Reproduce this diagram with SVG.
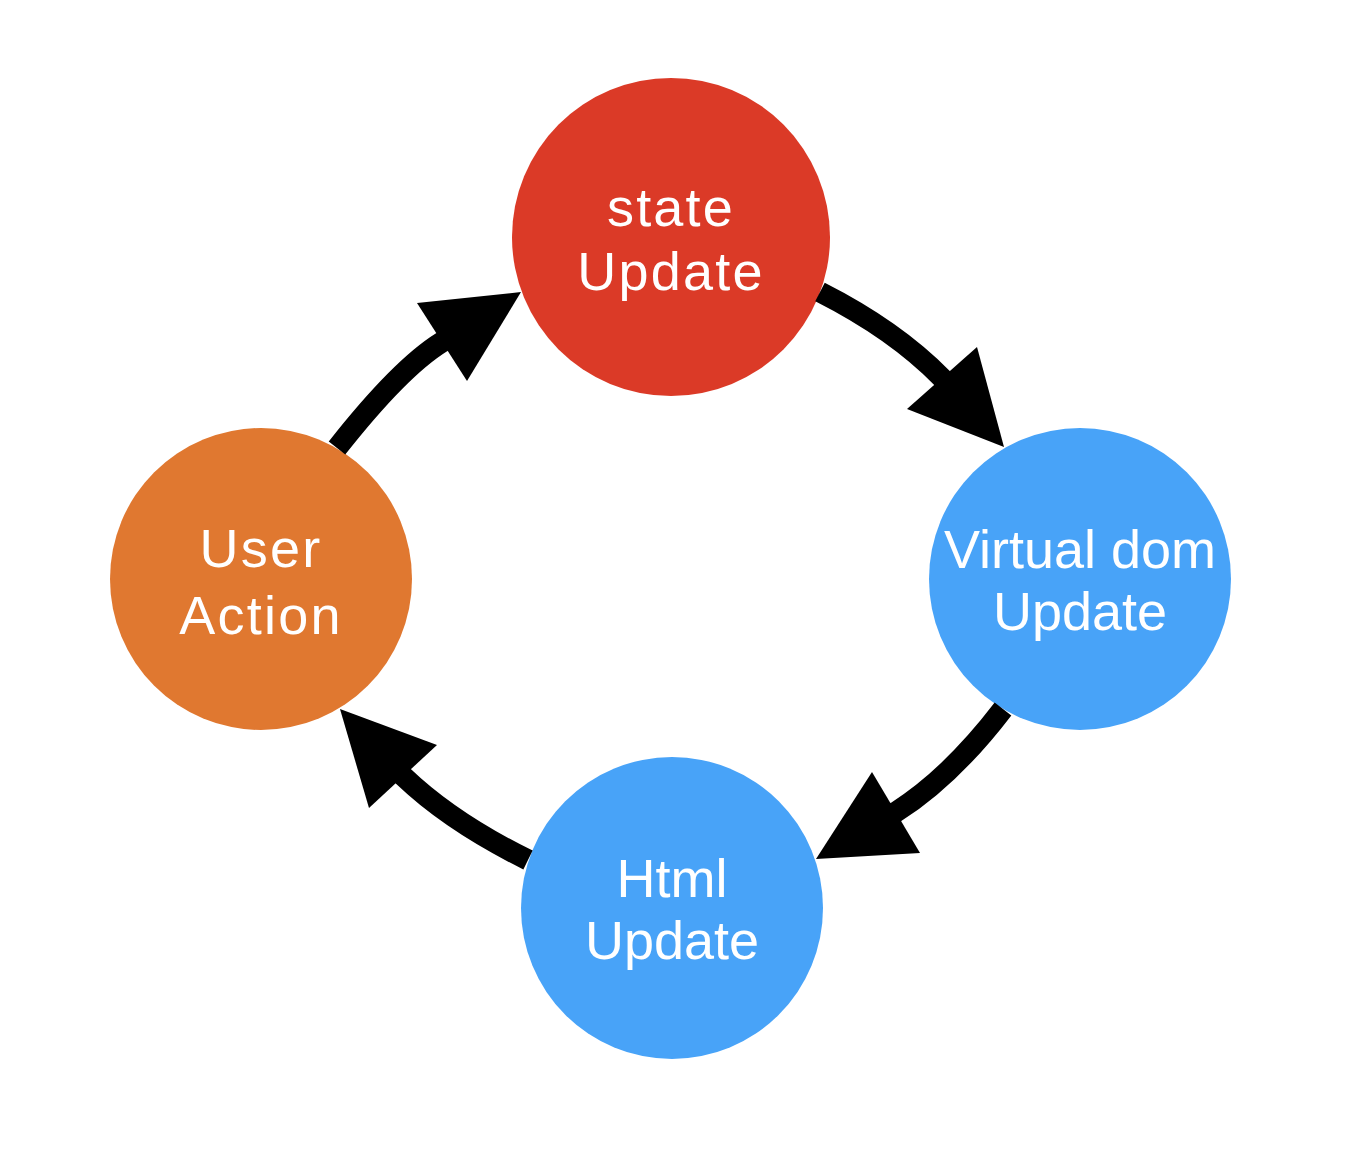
<svg xmlns="http://www.w3.org/2000/svg" width="1356" height="1156" viewBox="0 0 1356 1156">
<style>
.lbl{font-family:"Liberation Sans",Arial,sans-serif;font-size:54px;fill:#ffffff;text-anchor:middle}
.sp{letter-spacing:2.2px}
.conn path{fill:none;stroke:#000;stroke-width:21;stroke-linejoin:round}
.conn polygon{fill:#000}
</style>
<rect width="1356" height="1156" fill="#ffffff"/>
<g id="node-state">
<circle cx="671" cy="237" r="159" fill="#DB3A27"/>
<text class="lbl sp" x="671" y="226">state</text>
<text class="lbl sp" x="671" y="290">Update</text>
</g>
<g id="node-user">
<circle cx="261" cy="579" r="151" fill="#E07830"/>
<text class="lbl sp" x="261" y="567">User</text>
<text class="lbl sp" x="261" y="634">Action</text>
</g>
<g id="node-vdom">
<circle cx="1080" cy="579" r="151" fill="#48A3F8"/>
<text class="lbl" x="1080" y="568">Virtual dom</text>
<text class="lbl" x="1080" y="630">Update</text>
</g>
<g id="node-html">
<circle cx="672" cy="908" r="151" fill="#48A3F8"/>
<text class="lbl" x="672" y="897">Html</text>
<text class="lbl" x="672" y="959">Update</text>
</g>
<g id="connectors" class="conn">
<path d="M337,448 Q400,368 442,342 L458,332"/>
<polygon points="417,303 521,292 467,381"/>
<path d="M820,292 Q895,330 942,378 L954,392"/>
<polygon points="977,347 1004,447 907,409"/>
<path d="M1003,709 Q951,777 896,812 L880,821"/>
<polygon points="872,772 816,859 920,853"/>
<path d="M528,860 Q451,822 403,776 L390,763"/>
<polygon points="437,745 340,709 369,808"/>
</g>
</svg>
